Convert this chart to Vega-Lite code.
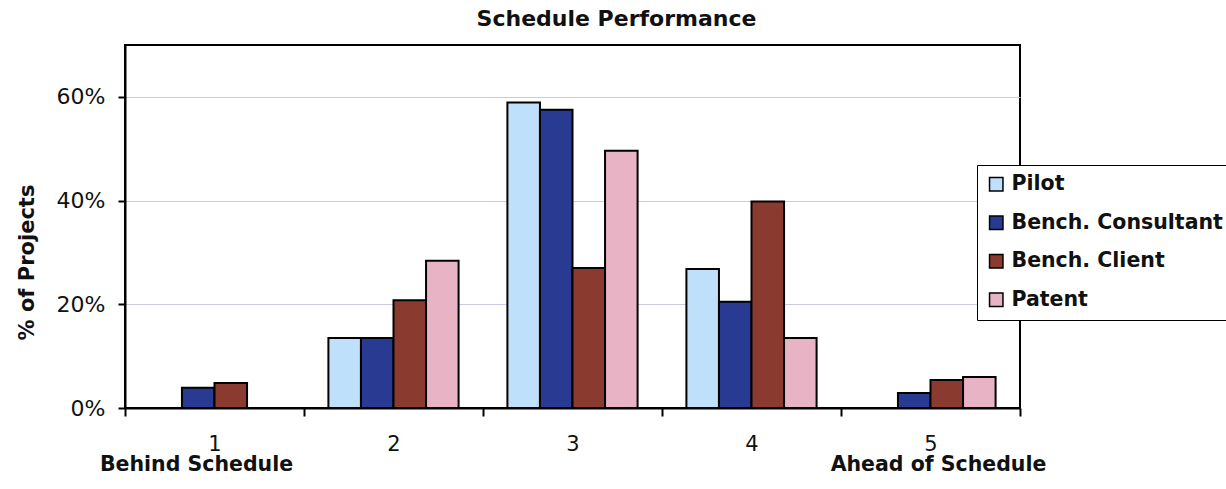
{
  "$schema": "https://vega.github.io/schema/vega-lite/v6.json",
  "width": 895,
  "height": 363,
  "autosize": {"type": "none"},
  "padding": {"left": 125, "top": 45, "right": 206, "bottom": 81},
  "background": "white",
  "title": {
    "text": "Schedule Performance",
    "font": "DejaVu Sans",
    "fontSize": 22,
    "fontWeight": "bold",
    "color": "#111111",
    "dx": 44,
    "offset": 14
  },
  "config": {
    "view": {"stroke": "black", "strokeWidth": 2},
    "font": "DejaVu Sans",
    "legend": {"strokeColor": "black", "fillColor": "white"}
  },
  "data": {
    "values": [
      {"group": "1", "series": "Pilot", "value": 0},
      {"group": "1", "series": "Bench. Consultant", "value": 0.039},
      {"group": "1", "series": "Bench. Client", "value": 0.048},
      {"group": "1", "series": "Patent", "value": 0},
      {"group": "2", "series": "Pilot", "value": 0.135},
      {"group": "2", "series": "Bench. Consultant", "value": 0.135},
      {"group": "2", "series": "Bench. Client", "value": 0.208},
      {"group": "2", "series": "Patent", "value": 0.284},
      {"group": "3", "series": "Pilot", "value": 0.589},
      {"group": "3", "series": "Bench. Consultant", "value": 0.575},
      {"group": "3", "series": "Bench. Client", "value": 0.27},
      {"group": "3", "series": "Patent", "value": 0.496},
      {"group": "4", "series": "Pilot", "value": 0.268},
      {"group": "4", "series": "Bench. Consultant", "value": 0.205},
      {"group": "4", "series": "Bench. Client", "value": 0.398},
      {"group": "4", "series": "Patent", "value": 0.135},
      {"group": "5", "series": "Pilot", "value": 0},
      {"group": "5", "series": "Bench. Consultant", "value": 0.029},
      {"group": "5", "series": "Bench. Client", "value": 0.054},
      {"group": "5", "series": "Patent", "value": 0.06}
    ]
  },
  "layer": [
    {
      "mark": {"type": "bar", "stroke": "black", "strokeWidth": 2},
      "encoding": {
        "x": {
          "field": "group",
          "type": "nominal",
          "scale": {"paddingInner": 0, "paddingOuter": 0},
          "axis": {
            "title": null,
            "labelAngle": 0,
            "labelFont": "DejaVu Sans",
            "labelFontSize": 21,
            "labelColor": "#111111",
            "labelPadding": 17,
            "tickBand": "extent",
            "tickSize": 8,
            "tickColor": "black",
            "tickWidth": 2,
            "domainColor": "black",
            "domainWidth": 2,
            "grid": false
          }
        },
        "xOffset": {
          "field": "series",
          "type": "nominal",
          "sort": ["Pilot", "Bench. Consultant", "Bench. Client", "Patent"],
          "scale": {"paddingInner": 0, "paddingOuter": 0.75}
        },
        "y": {
          "field": "value",
          "type": "quantitative",
          "scale": {"domain": [0, 0.7], "nice": false},
          "axis": {
            "title": "% of Projects",
            "titleFont": "DejaVu Sans",
            "titleFontSize": 21,
            "titleFontWeight": "bold",
            "titleColor": "#111111",
            "titleX": -88,
            "titleY": 217,
            "titleAngle": -90,
            "values": [0, 0.2, 0.4, 0.6],
            "format": ".0%",
            "labelFont": "DejaVu Sans",
            "labelFontSize": 22,
            "labelColor": "#111111",
            "labelPadding": 13,
            "tickSize": 7,
            "tickColor": "black",
            "tickWidth": 2,
            "domainColor": "black",
            "domainWidth": 2,
            "gridColor": "#c9c9e3",
            "gridWidth": 1
          }
        },
        "color": {
          "field": "series",
          "type": "nominal",
          "sort": ["Pilot", "Bench. Consultant", "Bench. Client", "Patent"],
          "scale": {
            "domain": ["Pilot", "Bench. Consultant", "Bench. Client", "Patent"],
            "range": ["#bfe0fa", "#283a92", "#8a3a2e", "#e8b3c4"]
          },
          "legend": {
            "title": null,
            "orient": "none",
            "legendX": 852,
            "legendY": 120,
            "padding": 9,
            "symbolType": "square",
            "symbolSize": 180,
            "symbolStrokeColor": "black",
            "symbolStrokeWidth": 1.5,
            "labelFont": "DejaVu Sans",
            "labelFontSize": 20.5,
            "labelFontWeight": "bold",
            "labelColor": "#111111",
            "labelOffset": 5,
            "labelLimit": 400,
            "rowPadding": 17.5
          }
        }
      }
    },
    {
      "mark": {"type": "text", "opacity": 0},
      "encoding": {
        "x": {
          "field": "group",
          "type": "nominal",
          "axis": {
            "title": null,
            "orient": "bottom",
            "labelAngle": 0,
            "domain": false,
            "ticks": false,
            "tickSize": 0,
            "grid": false,
            "labelPadding": 46,
            "labelLimit": 400,
            "labelOffset": {"condition": {"test": "datum.value == '1'", "value": -18}, "value": 8},
            "labelFont": "DejaVu Sans",
            "labelFontSize": 20.5,
            "labelFontWeight": "bold",
            "labelColor": "#111111",
            "labelExpr": "datum.value == '1' ? 'Behind Schedule' : (datum.value == '5' ? 'Ahead of Schedule' : '')"
          }
        },
        "text": {"value": ""}
      }
    }
  ],
  "resolve": {"axis": {"x": "independent"}}
}
